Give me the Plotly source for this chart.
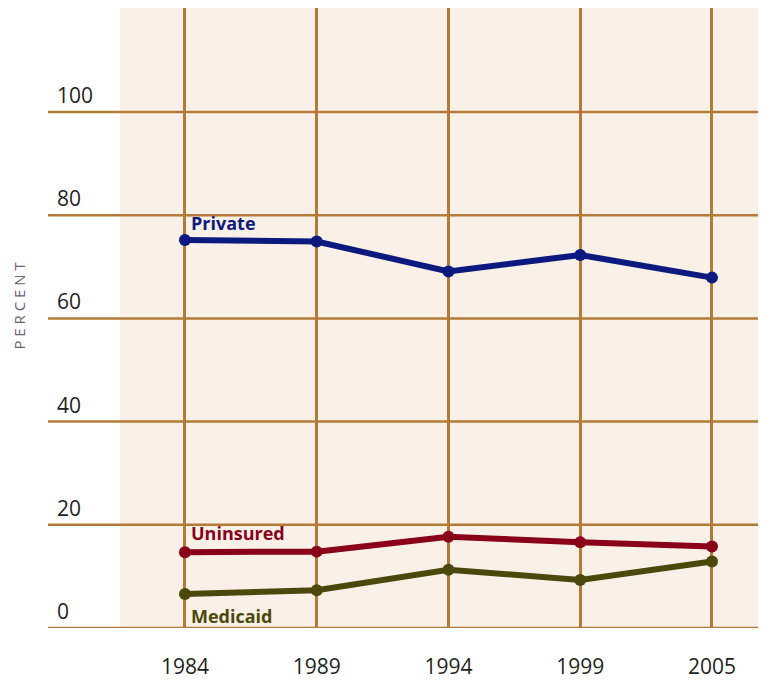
import plotly.graph_objects as go

years = ["1984", "1989", "1994", "1999", "2005"]
private = [75.2, 74.9, 69.1, 72.3, 67.9]
uninsured = [14.7, 14.8, 17.7, 16.6, 15.8]
medicaid = [6.6, 7.3, 11.3, 9.3, 12.9]
y_ticks = [0, 20, 40, 60, 80, 100]

# page has an 8px body margin, so the figure is offset by 8px
W, H = 758, 672
ML, MR, MT, MB = 112, 0, 0, 49
grid = "#b37b37"
bg = "#f9f1e7"
FONT = "Open Sans"

fig = go.Figure()
series = [
    ("Private", private, "#0c1a7f"),
    ("Uninsured", uninsured, "#8a0019"),
    ("Medicaid", medicaid, "#4c480b"),
]
for name, vals, col in series:
    fig.add_trace(go.Scatter(
        x=years, y=vals, mode="lines+markers", name=name,
        line=dict(color=col, width=6),
        marker=dict(color=col, size=12),
        cliponaxis=False, showlegend=False,
    ))

pw = W - ML - MR
x_left = (40 - ML) / pw
for v in y_ticks:
    fig.add_shape(type="line", xref="paper", yref="y", x0=x_left, x1=1,
                  y0=v, y1=v, line=dict(color=grid, width=2.5), layer="below")
    fig.add_annotation(xref="paper", yref="y", x=(47 - ML) / pw, y=v,
                       text=str(v), showarrow=False, xanchor="left",
                       yanchor="bottom", yshift=1,
                       font=dict(family=FONT, size=21, color="#231f20"))

# series labels (category axis: position by index of the first year)
first = years.index(years[0])
fig.add_annotation(xref="x", yref="y", x=first, y=private[0], text="<b>Private</b>",
                   showarrow=False, xanchor="left", yanchor="bottom", xshift=4, yshift=3,
                   font=dict(family=FONT, size=18, color="#0c1a7f"))
fig.add_annotation(xref="x", yref="y", x=first, y=uninsured[0], text="<b>Uninsured</b>",
                   showarrow=False, xanchor="left", yanchor="bottom", xshift=4, yshift=5,
                   font=dict(family=FONT, size=18, color="#8a0019"))
fig.add_annotation(xref="x", yref="y", x=first, y=medicaid[0], text="<b>Medicaid</b>",
                   showarrow=False, xanchor="left", yanchor="top", xshift=4, yshift=-8,
                   font=dict(family=FONT, size=18, color="#4c480b"))

fig.add_annotation(xref="paper", yref="paper", x=(11 - ML) / pw,
                   y=(H - MB - (307 - 8)) / (H - MT - MB), xanchor="center",
                   text="P E R C E N T", textangle=-90, showarrow=False,
                   font=dict(family=FONT, size=15, color="#6e5f72"))

fig.update_layout(
    width=W, height=H,
    margin=dict(l=ML, r=MR, t=MT, b=MB),
    paper_bgcolor="white", plot_bgcolor=bg,
    xaxis=dict(type="category", range=[-0.493, 4.41], showgrid=True,
               gridcolor=grid, gridwidth=2.5, zeroline=False, showline=False,
               ticks="", tickfont=dict(family=FONT, size=21, color="#231f20"),
               ticklabelstandoff=24),
    yaxis=dict(range=[0, 120.15], showgrid=False, zeroline=False,
               showticklabels=False, showline=False, fixedrange=True),
)

fig.write_html("out.html")
